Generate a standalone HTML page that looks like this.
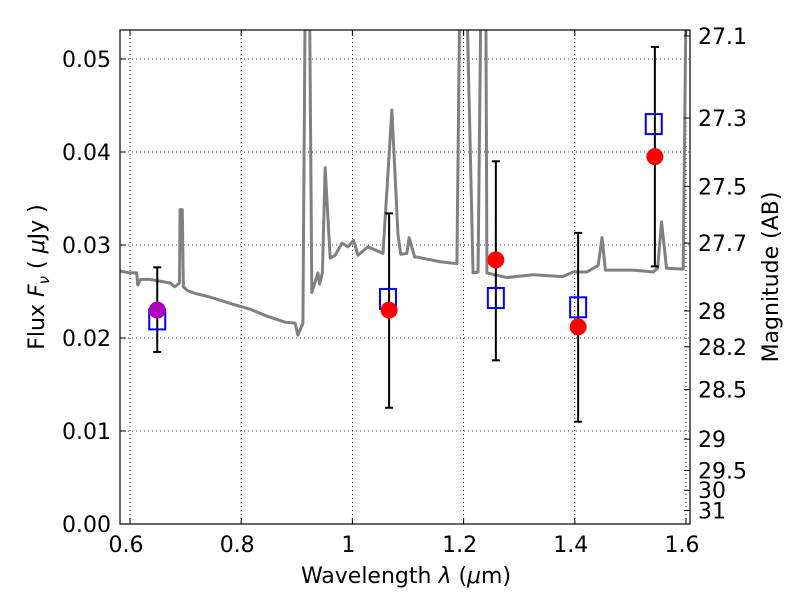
<!DOCTYPE html>
<html><head><meta charset="utf-8"><style>
body{margin:0;background:#fff}
svg text{font-family:"DejaVu Sans","Liberation Sans",sans-serif;font-size:22px;fill:#000}
</style></head><body>
<svg id="chart" width="800" height="600" xmlns="http://www.w3.org/2000/svg">
<defs><clipPath id="clip"><rect x="120" y="30" width="570" height="494"/></clipPath></defs>
<rect x="0" y="0" width="800" height="600" fill="#fff"/>
<g id="grid"></g>
<g id="spec" clip-path="url(#clip)"></g>
<g id="marks"></g>
<rect x="120" y="30" width="570" height="494" fill="none" stroke="#000" stroke-width="1.2"/>
<g id="axes"></g>
<text x="406" y="583" text-anchor="middle">Wavelength  <tspan font-style="italic">λ</tspan> (<tspan font-style="italic">μ</tspan>m)</text>
<text transform="translate(44,277) rotate(-90)" text-anchor="middle">Flux  <tspan font-style="italic">F</tspan><tspan font-style="italic" font-size="15" dy="5">ν</tspan><tspan dy="-5">  ( </tspan><tspan font-style="italic">μ</tspan>Jy )</text>
<text transform="translate(778,277) rotate(-90)" text-anchor="middle">Magnitude (AB)</text>
</svg>
<script>
const xTicks=[0.6,0.8,1.0,1.2,1.4,1.6];
const xTickLabels=["0.6","0.8","1","1.2","1.4","1.6"];
const yTicks=[0,0.01,0.02,0.03,0.04,0.05];
const yTickLabels=["0.00","0.01","0.02","0.03","0.04","0.05"];
const magTicks=[27.1,27.3,27.5,27.7,28,28.2,28.5,29,29.5,30,31];
const specWave=[0.582,0.600,0.612,0.614,0.619,0.636,0.654,0.673,0.680,0.689,0.690,0.694,0.696,0.703,0.717,0.744,0.781,0.816,0.844,0.879,0.897,0.902,0.911,0.915,0.918,0.923,0.927,0.938,0.941,0.946,0.951,0.960,0.969,0.981,0.992,1.002,1.010,1.028,1.055,1.071,1.082,1.087,1.098,1.102,1.112,1.116,1.158,1.188,1.193,1.206,1.217,1.226,1.231,1.240,1.242,1.278,1.325,1.378,1.397,1.422,1.442,1.449,1.455,1.505,1.541,1.549,1.556,1.565,1.595,1.600,1.607];
const specFlux=[0.0272,0.0270,0.0270,0.0257,0.0263,0.0263,0.0261,0.0259,0.0255,0.0259,0.0338,0.0338,0.0255,0.0251,0.0248,0.0244,0.0237,0.0231,0.0224,0.0217,0.0216,0.0203,0.0216,0.0560,0.0560,0.0560,0.0249,0.0270,0.0258,0.0270,0.0383,0.0286,0.0289,0.0302,0.0298,0.0305,0.0289,0.0298,0.0291,0.0445,0.0311,0.0290,0.0291,0.0308,0.0287,0.0287,0.0282,0.0280,0.0560,0.0560,0.0270,0.0271,0.0560,0.0560,0.0270,0.0265,0.0268,0.0266,0.0271,0.0271,0.0278,0.0308,0.0273,0.0273,0.0271,0.0275,0.0325,0.0275,0.0274,0.0560,0.0560];
const photWave=[0.649,1.066,1.258,1.406,1.544];
const photFlux=[0.0230,0.0230,0.0284,0.0212,0.0395];
const photErrLo=[0.0185,0.0125,0.0176,0.0110,0.0277];
const photErrHi=[0.0276,0.0334,0.0390,0.0313,0.0513];
const modelWave=[0.649,1.064,1.258,1.406,1.542];
const modelFlux=[0.0220,0.0242,0.0243,0.0233,0.0430];
const NS="http://www.w3.org/2000/svg";
const X=v=>130+(v-0.6)*556;
const Y=f=>524-f*9300;
const MY=m=>Y(Math.pow(10,(23.9-m)/2.5));
function mk(tag,attrs,parent,txt){const e=document.createElementNS(NS,tag);for(const k in attrs)e.setAttribute(k,attrs[k]);if(txt!==undefined)e.textContent=txt;parent.appendChild(e);return e;}
const grid=document.getElementById('grid'),axes=document.getElementById('axes'),spec=document.getElementById('spec'),marks=document.getElementById('marks');
xTicks.forEach((v,i)=>{const x=X(v);
 const g=mk('line',{x1:x,x2:x,y1:30,y2:524,stroke:'#000','stroke-width':0.8,'stroke-dasharray':'1,3'},grid);
 
 
 mk('line',{x1:x,x2:x,y1:524,y2:518,stroke:'#000'},axes);
 mk('line',{x1:x,x2:x,y1:30,y2:36,stroke:'#000'},axes);
 const t=mk('text',{x:x-4,y:552,'text-anchor':'middle'},axes,xTickLabels[i]);
 
 
});
yTicks.forEach((v,i)=>{const y=Y(v);
 const g=mk('line',{x1:120,x2:690,y1:y,y2:y,stroke:'#000','stroke-width':0.8,'stroke-dasharray':'1,3'},grid);
 
 
 mk('line',{x1:120,x2:126,y1:y,y2:y,stroke:'#000'},axes);
 const t=mk('text',{x:111,y:y+8,'text-anchor':'end'},axes,yTickLabels[i]);
 
 
});
magTicks.forEach(m=>{const y=MY(m);
 mk('line',{x1:684,x2:690,y1:y,y2:y,stroke:'#000'},axes);
 const t=mk('text',{x:698,y:y+8},axes,String(m));
 
 
});
const pl=mk('polyline',{points:specWave.map((w,i)=>X(w)+','+Y(specFlux[i])).join(' '),fill:'none',stroke:'#808080','stroke-width':3,'stroke-linejoin':'round'},spec);


photWave.forEach((w,i)=>{const x=X(w);
 const e=mk('line',{x1:x,x2:x,y1:Y(photErrLo[i]),y2:Y(photErrHi[i]),stroke:'#000','stroke-width':2},marks);
 
 
 mk('line',{x1:x-4,x2:x+4,y1:Y(photErrLo[i]),y2:Y(photErrLo[i]),stroke:'#000','stroke-width':2},marks);
 mk('line',{x1:x-4,x2:x+4,y1:Y(photErrHi[i]),y2:Y(photErrHi[i]),stroke:'#000','stroke-width':2},marks);
});
modelWave.forEach((w,i)=>{
 const r=mk('rect',{x:X(w)-8,y:Y(modelFlux[i])-10,width:16,height:20,fill:'none',stroke:'#0000ff','stroke-width':2},marks);
 
 
});
photWave.forEach((w,i)=>{
 const c=mk('circle',{cx:X(w),cy:Y(photFlux[i]),r:8.5,fill:i===0?'#aa00bb':'#ff0000'},marks);
 
 
});
</script>
</body></html>
